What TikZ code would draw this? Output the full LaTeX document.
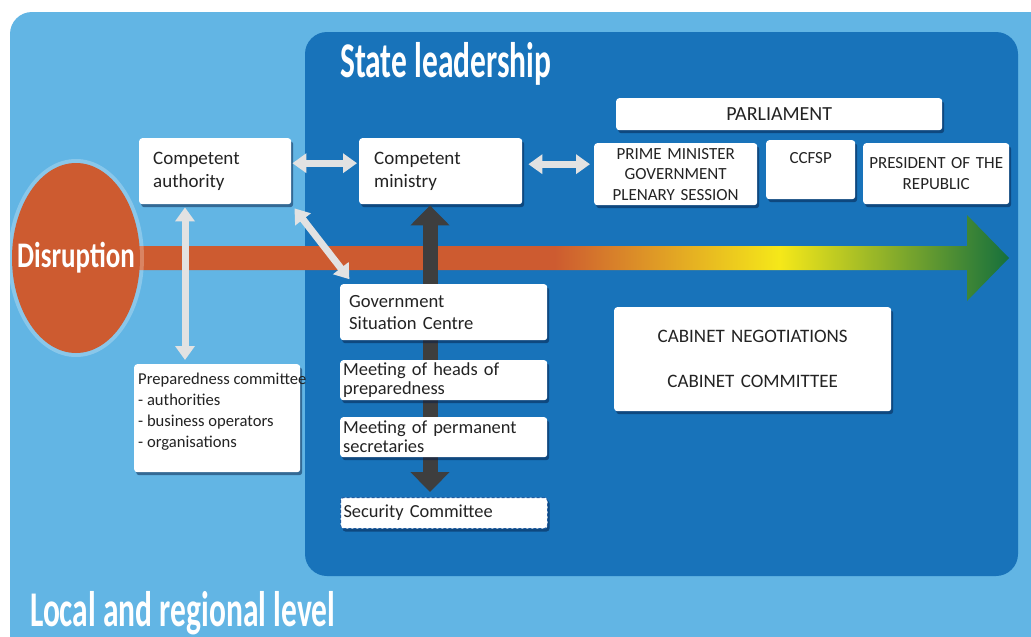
\documentclass[tikz,border=0pt]{standalone}
\usepackage{fontspec}
\usepackage{graphicx}
\setmainfont{Carlito}
\newfontfamily\condA{Carlito}[FakeStretch=0.63]
\newfontfamily\condB{Carlito}[FakeStretch=0.75]
\usetikzlibrary{shadows,arrows.meta,calc,shapes.geometric}
\definecolor{lightblue}{RGB}{98,181,228}
\definecolor{darkblue}{RGB}{24,115,186}
\definecolor{dorange}{RGB}{205,91,48}
\definecolor{dyellow}{RGB}{245,232,25}
\definecolor{dgreen}{RGB}{22,112,60}
\definecolor{dgrey}{RGB}{62,62,62}
\definecolor{lgrey}{RGB}{226,226,226}
\definecolor{txtc}{RGB}{35,35,35}
\definecolor{shadowc}{RGB}{5,30,70}
\definecolor{dashc}{RGB}{30,90,160}
\pgfdeclarehorizontalshading{flowshade}{100bp}{color(0bp)=(dorange); color(50bp)=(dorange); color(62.4bp)=(dyellow); color(75bp)=(dgreen); color(100bp)=(dgreen)}
\begin{document}
\begin{tikzpicture}[x=1pt,y=-1pt,
  wbox/.style={fill=white, rounded corners=3pt, inner ysep=0pt, anchor=north west, text=txtc,
    drop shadow={shadow xshift=2pt,shadow yshift=-3pt,opacity=0.5,fill=shadowc}},
  big/.style={font=\fontsize{19}{23}\selectfont},
  caps/.style={font=\fontsize{17}{20.5}\selectfont},
  lgarrow/.style={draw=lgrey, line width=7pt, {Triangle[width=19pt,length=14pt]}-{Triangle[width=19pt,length=14pt]}},
  dgarrow/.style={draw=dgrey, line width=15pt, {Triangle[width=38pt,length=20pt]}-{Triangle[width=38pt,length=20pt]}},
  title/.style={text=white, inner sep=0pt, anchor=base west}]
\useasboundingbox (0,0) rectangle (1031,637);
\fill[white] (0,0) rectangle (1031,637);
% outer and inner panels
\fill[lightblue, rounded corners=22pt] (10,12) rectangle (1060,670);
\fill[darkblue, rounded corners=22pt] (305,32) rectangle (1018,576);
\node[title, font=\condA\bfseries\fontsize{50}{50}\selectfont] (stitle) at (340,77) {State leadership};
\node[title, font=\condA\bfseries\fontsize{50}{50}\selectfont] (ltitle) at (30,626) {Local and regional level};
% big flow arrow
\shade[shading=flowshade] (100,246) -- (967,246) -- (967,215) -- (1009,258) -- (967,301) -- (967,270) -- (100,270) -- cycle;
% disruption
\fill[white, opacity=0.25] (76,258) ellipse [x radius=68pt, y radius=99pt];
\node[ellipse, fill=dorange, minimum width=128pt, minimum height=190pt, inner sep=0pt] (dis) at (76,258) {};
\node[text=white, font=\condB\bfseries\fontsize{36}{36}\selectfont, inner sep=0pt] (distext) at (dis.center) {Disruption};
% white boxes
\node[wbox, big, minimum width=152pt, minimum height=66pt, inner xsep=14pt, text width=124pt, align=left] (ca) at (139,138) {Competent\\authority};
\node[wbox, big, minimum width=163pt, minimum height=66pt, inner xsep=15pt, text width=133pt, align=left] (cm) at (359,138) {Competent\\ministry};
\node[wbox, minimum width=326pt, minimum height=32pt, inner xsep=0pt, text width=326pt, align=center, font=\fontsize{20}{23}\selectfont] (parl) at (616,98) {PARLIAMENT};
\node[wbox, caps, minimum width=163pt, minimum height=62pt, inner xsep=0pt, text width=163pt, align=center] (pm) at ($(594,140)+(0,3)$) {PRIME MINISTER\\GOVERNMENT\\PLENARY SESSION};
\node[wbox, caps, minimum width=89pt, minimum height=59pt, inner xsep=0pt, text width=89pt, align=center] (ccfsp) at (766,140) {CCFSP\\[2pt]\mbox{}};
\node[wbox, caps, minimum width=146pt, minimum height=61pt, inner xsep=0pt, text width=146pt, align=center] (pres) at (863,143) {PRESIDENT OF THE\\REPUBLIC};
\node[wbox, minimum width=277pt, minimum height=104pt, inner xsep=0pt, text width=277pt, align=center, font=\fontsize{19}{23}\selectfont] (cab) at (614,307) {CABINET NEGOTIATIONS\\[22pt]CABINET COMMITTEE};
\node[wbox, minimum width=166pt, minimum height=108pt] (prep) at (134,364) {};
\node[inner sep=0pt, anchor=north west, text=txtc, align=left, font=\fontsize{16.6}{21}\selectfont] (preptext) at (138,373) {Preparedness committee\\- authorities\\- business operators\\- organisations};
% grey vertical arrow
\coordinate (gx) at (430,0);
\node[wbox, minimum width=207pt, minimum height=31pt, inner xsep=3pt, text width=201pt, align=left, draw=dashc, dash pattern=on 3pt off 2pt, line width=1pt, font=\fontsize{18.4}{20}\selectfont] (sc) at (340,497) {Security Committee};
\draw[dgarrow, shorten <=1pt, shorten >=5pt] (cm.south -| gx) -- (sc.north -| gx);
\node[wbox, minimum width=207pt, minimum height=56pt, inner xsep=9pt, text width=189pt, align=left, font=\fontsize{18.6}{22}\selectfont] (gsc) at (340,284) {Government\\Situation Centre};
\node[wbox, minimum width=207pt, minimum height=40pt, inner xsep=3pt, text width=201pt, align=left, font=\fontsize{18.4}{19}\selectfont] (mh) at (340,360) {Meeting of heads of\\preparedness};
\node[wbox, minimum width=207pt, minimum height=40pt, inner xsep=3pt, text width=201pt, align=left, font=\fontsize{18.4}{19}\selectfont] (mp) at (340,417) {Meeting of permanent\\secretaries};
% light grey connectors
\draw[lgarrow, shorten <=1pt, shorten >=2pt] ($(ca.east)+(0,-8)$) -- ($(cm.west)+(0,-8)$);
\draw[lgarrow, shorten <=6pt, shorten >=4pt] ($(cm.east)+(0,-7)$) -- ($(pm.west)+(0,-10)$);
\draw[lgarrow, shorten <=3pt, shorten >=4pt] (ca.south -| 185,0) -- (prep.north -| 185,0);
\draw[lgarrow, shorten <=5pt, shorten >=1pt] (ca.south east) -- ($(gsc.north west)+(10,-4)$);
\end{tikzpicture}
\end{document}
